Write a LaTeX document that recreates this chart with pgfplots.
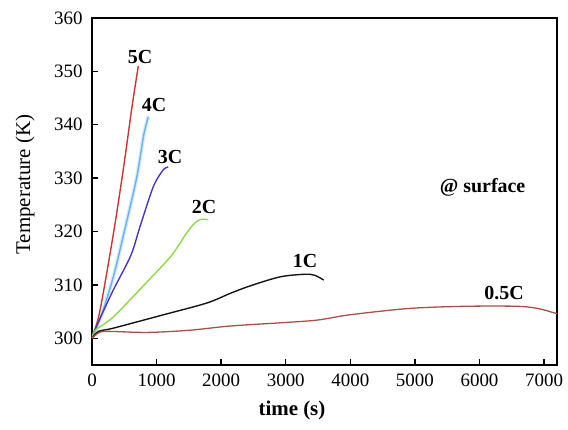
\documentclass[border=0pt]{standalone}
\usepackage{pgfplots}
\pgfplotsset{compat=1.18}
\usepackage{fontspec}
\setmainfont{Liberation Serif}
\definecolor{cfive}{RGB}{200,55,55}
\definecolor{cfour}{RGB}{130,205,240}
\definecolor{cthree}{RGB}{75,55,190}
\definecolor{ctwo}{RGB}{145,215,75}
\definecolor{cone}{RGB}{25,20,20}
\definecolor{chalf}{RGB}{170,80,70}
\begin{document}
\begin{tikzpicture}
\begin{axis}[
  at={(0,0)}, anchor=south west,
  scale only axis, width=465bp, height=347bp,
  xmin=0, xmax=7200, ymin=295, ymax=360,
  xtick={0,1000,...,7000}, ytick={300,310,...,360},
  xtick pos=left, ytick pos=left, tick align=inside,
  major tick length=6bp,
  axis line style={line width=1.6bp},
  every tick/.style={line width=1.4bp, black},
  scaled x ticks=false,
  /pgf/number format/assume math mode=true,
  /pgf/number format/1000 sep={},
  tick label style={font=\fontsize{19}{19}\selectfont},
  xticklabel style={yshift=-5bp},
  yticklabel style={xshift=-6bp},
  xlabel={\textbf{time (s)}},
  xlabel style={font=\fontsize{21}{21}\selectfont,
    at={(axis description cs:0.43,0)}, anchor=center, yshift=-45bp},
  ylabel={Temperature (K)},
  ylabel style={font=\fontsize{21}{21}\selectfont,
    at={(axis description cs:-0.144,0.52)}, anchor=center},
  every axis plot/.append style={smooth, tension=0.5},
  clip=true,
]
% 4C with its soft halo
\addplot[cfour, opacity=0.35, line width=4bp] coordinates {
 (0,300) (150,304.5) (330,311.5) (500,320) (690,330) (800,338) (871,341.5)};
\addplot[cfour!85!blue, line width=1.4bp] coordinates {
 (0,300) (150,304.5) (330,311.5) (500,320) (690,330) (800,338) (871,341.5)};
% 5C
\addplot[cfive, line width=1.4bp] coordinates {
 (0,300) (120,305) (333,319.7) (490,332.1) (620,343.4) (717,351)};
% 3C
\addplot[cthree, line width=1.4bp] coordinates {
 (0,300) (60,302) (320,308.8) (600,315.5) (743,320.9) (949,328.4) (1100,331.5) (1181,332.1)};
% 2C
\addplot[ctwo, line width=1.4bp] coordinates {
 (0,300) (60,301.6) (330,304) (847,310.5) (1230,315.5) (1464,319.7) (1600,321.7) (1697,322.3) (1800,322.2)};
% 1C
\addplot[cone, line width=1.4bp] coordinates {
 (0,300) (100,301.3) (330,301.9) (1104,304.4) (1776,306.6) (2137,308.4) (2444,309.8) (2908,311.5) (3295,312.0) (3450,311.8) (3589,310.9)};
% 0.5C
\addplot[chalf, line width=1.3bp] coordinates {
 (0,300) (100,301.0) (232,301.3) (852,301.1) (1500,301.5) (2137,302.3) (2912,302.9) (3480,303.4) (3990,304.4) (4919,305.6) (5795,306.0) (6570,306.0) (6900,305.6) (7200,304.6)};
% curve labels
\node[font=\bfseries\fontsize{20}{20}\selectfont] at (axis cs:743,352.7) {5C};
\node[font=\bfseries\fontsize{20}{20}\selectfont] at (axis cs:960,343.7) {4C};
\node[font=\bfseries\fontsize{20}{20}\selectfont] at (axis cs:1208,334.0) {3C};
\node[font=\bfseries\fontsize{20}{20}\selectfont] at (axis cs:1735,324.6) {2C};
\node[font=\bfseries\fontsize{20}{20}\selectfont] at (axis cs:3300,314.5) {1C};
\node[font=\bfseries\fontsize{20}{20}\selectfont] at (axis cs:6380,308.5) {0.5C};
\node[font=\bfseries\fontsize{20}{20}\selectfont] at (axis cs:6048,328.2) {@ surface};
\end{axis}
\pgfresetboundingbox
\useasboundingbox (-92bp,-65bp) rectangle (476bp,365bp);
\end{tikzpicture}
\end{document}
